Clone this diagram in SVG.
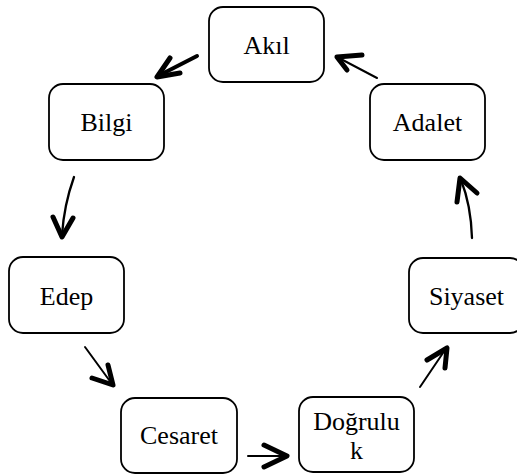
<svg xmlns="http://www.w3.org/2000/svg" width="517" height="474" viewBox="0 0 517 474">
<style>
.box{fill:#fff;stroke:#000;stroke-width:1.8}
.lbl{font-family:"Liberation Serif","Times New Roman",serif;font-size:26px;fill:#000;text-anchor:middle}
.shaft{fill:none;stroke:#000;stroke-width:2;stroke-linecap:round}
.head{fill:none;stroke:#000;stroke-width:5;stroke-linecap:round;stroke-linejoin:round}
</style>
<rect width="517" height="474" fill="#fff"/>
<g id="akil"><rect class="box" x="209" y="7" width="115" height="75" rx="14"/><text class="lbl" x="266.5" y="54" font-family="Liberation Serif, serif">Akıl</text></g>
<g id="bilgi"><rect class="box" x="49" y="84" width="115" height="76" rx="14"/><text class="lbl" x="106.5" y="131" font-family="Liberation Serif, serif">Bilgi</text></g>
<g id="edep"><rect class="box" x="9" y="257" width="115" height="76" rx="14"/><text class="lbl" x="66.5" y="305" font-family="Liberation Serif, serif">Edep</text></g>
<g id="cesaret"><rect class="box" x="121" y="398" width="116" height="75" rx="14"/><text class="lbl" x="179" y="444" font-family="Liberation Serif, serif">Cesaret</text></g>
<g id="dogruluk"><rect class="box" x="299" y="397" width="115" height="75" rx="14"/><text class="lbl" x="356.5" y="430" font-family="Liberation Serif, serif">Doğrulu</text><text class="lbl" x="356.5" y="459" font-family="Liberation Serif, serif">k</text></g>
<g id="siyaset"><rect class="box" x="409" y="258" width="115" height="75" rx="14"/><text class="lbl" x="466.5" y="305" font-family="Liberation Serif, serif">Siyaset</text></g>
<g id="adalet"><rect class="box" x="370" y="84" width="115" height="76" rx="14"/><text class="lbl" x="427.5" y="131" font-family="Liberation Serif, serif">Adalet</text></g>
<g id="connectors">
<path class="shaft" style="stroke-width:4" d="M197,56 L158,76"/>
<path class="head" d="M170,58 L157,77 L180,73"/>
<path class="shaft" d="M377,78 L339,58"/>
<path class="head" d="M362,55 L337,57 L347,70"/>
<path class="shaft" style="stroke-width:2.3" d="M74,177 Q64,205 62,235"/>
<path class="head" d="M53,217 L62,237 L73,218"/>
<path class="shaft" d="M85,347 L112,384"/>
<path class="head" d="M108,365 L113,385 L92,378"/>
<path class="shaft" d="M248,456 L285,456"/>
<path class="head" d="M264,445 L287,456 L264,467"/>
<path class="shaft" d="M420,387 L445,350"/>
<path class="head" d="M427,360 L447,348 L445,368"/>
<path class="shaft" style="stroke-width:2.3" d="M472,238 Q471,205 461,180"/>
<path class="head" d="M457,202 L460,178 L477,193"/>
</g>
</svg>
